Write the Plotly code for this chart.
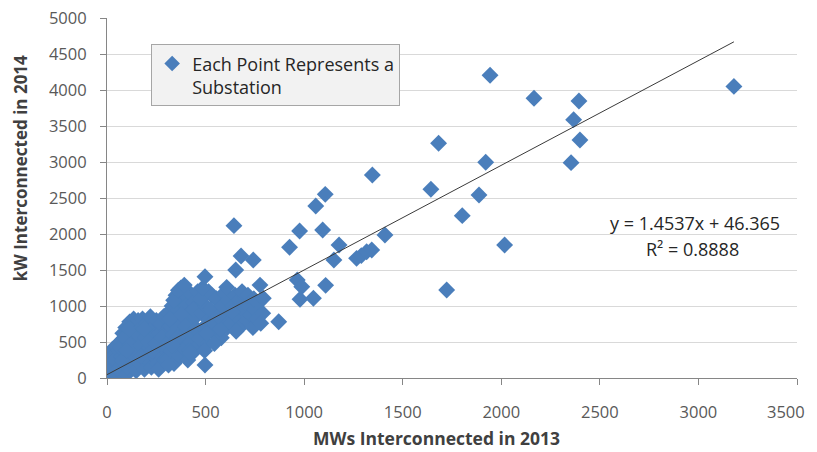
import plotly.graph_objects as go

# Outlying substations (MW 2013, kW 2014)
x_out = [3180, 2394, 2367, 2399, 2354, 2166, 1943, 1682, 1921, 1346, 1643, 1887, 1107, 1059,
         1802, 977, 1094, 926, 1177, 1151, 1410, 1266, 1290, 1317, 1343, 2017, 1723, 965,
         988, 1109, 979, 1047, 871, 644, 680, 742, 653, 497, 607, 776, 793, 497, 421]
y_out = [4050, 3847, 3588, 3306, 2991, 3885, 4205, 3260, 2996, 2819, 2621, 2542, 2551, 2389,
         2255, 2042, 2056, 1815, 1847, 1639, 1986, 1662, 1700, 1754, 1778, 1847, 1222, 1361,
         1268, 1287, 1093, 1107, 782, 2116, 1694, 1639, 1500, 1407, 1259, 1290, 1107, 181, 347]

# Dense cluster of small substations
x_cluster = [0, 5, 10, 3, 15, 20, 25, 8, 30, 35, 40, 12, 45, 50, 55, 60, 18, 28, 42, 48, 5, 22, 38, 52, 58,
             65, 70, 75, 80, 85, 90, 95, 100, 105, 110, 115, 120, 125, 130, 135, 140, 145, 150, 155, 160,
             68, 88, 102, 118, 132, 148, 158, 78, 98, 112,
             165, 170, 175, 180, 185, 190, 195, 200, 205, 210, 215, 220, 225, 230, 235, 240, 245, 250,
             255, 260, 265, 270, 275, 280, 285, 290, 295, 300, 172, 188, 208, 228, 248, 262, 278, 292,
             305, 310, 315, 320, 325, 330, 335, 340, 345, 350, 355, 360, 365, 370, 375, 380, 385, 390,
             395, 400, 405, 410, 415, 420, 425, 430, 435, 440, 445, 450, 455, 460, 318, 338, 358, 378,
             398, 418, 438, 452, 362, 392, 312, 332,
             470, 480, 490, 500, 510, 520, 530, 540, 550, 560, 570, 580, 590, 600, 610, 620, 475, 495,
             515, 535, 555, 575, 595, 485, 505, 525, 545, 565, 585, 615,
             630, 640, 650, 660, 670, 680, 690, 700, 710, 720, 730, 740, 750, 760, 770, 790, 655, 685,
             715, 745, 780, 635]
y_cluster = [0, 20, 50, 80, 10, 120, 60, 150, 200, 30, 90, 250, 160, 300, 20, 230, 330, 400, 360, 440, 190, 280, 260, 120, 380,
             500, 80, 300, 620, 180, 420, 700, 50, 260, 560, 780, 350, 140, 650, 820, 480, 250, 720, 380, 590,
             420, 560, 150, 460, 300, 100, 800, 240, 380, 680,
             200, 450, 700, 820, 330, 120, 560, 760, 260, 640, 420, 850, 150, 520, 700, 300, 600, 800,
             200, 450, 620, 350, 750, 180, 520, 860, 400, 650, 300, 680, 500, 380, 480, 120, 560, 250,
             250, 900, 500, 720, 380, 1000, 600, 200, 820, 1150, 450, 700, 950, 300, 1250, 560, 1100, 800,
             400, 1000, 650, 250, 900, 1180, 500, 750, 350, 1050, 600, 850, 430, 1200, 820, 1080, 560, 880,
             720, 380, 950, 680, 1220, 1290, 180, 450,
             550, 900, 700, 1000, 480, 820, 1150, 620, 900, 750, 1050, 560, 850, 1000, 700, 900, 1100, 380,
             1200, 780, 1100, 680, 1180, 1250, 620, 950, 480, 860, 1000, 1080,
             760, 1000, 1150, 850, 1080, 720, 950, 1120, 800, 1000, 880, 700, 950, 820, 1050, 900, 650, 1200,
             1150, 1100, 760, 920]

x_all = x_cluster + x_out
y_all = y_cluster + y_out

slope = 1.4537
intercept = 46.365
r2 = 0.8888

x_tick_vals = [0, 500, 1000, 1500, 2000, 2500, 3000, 3500]
y_tick_vals = [0, 500, 1000, 1500, 2000, 2500, 3000, 3500, 4000, 4500, 5000]
# last x label is drawn as an annotation so it stays inside the page
x_tick_text = [str(v) for v in x_tick_vals[:-1]] + [""]

x_title = "MWs Interconnected in 2013"
y_title = "kW Interconnected in 2014"

FONT = "Open Sans"
BLUE = "#4A7EBB"

fig = go.Figure()
fig.add_trace(go.Scatter(
    x=x_all, y=y_all, mode="markers",
    name="Each Point Represents a<br>Substation",
    marker=dict(symbol="diamond", size=13, color=BLUE, line=dict(width=0)),
    hoverinfo="x+y",
))
xmin, xmax = min(x_all), max(x_all)
fig.add_trace(go.Scatter(
    x=[xmin, xmax], y=[slope * xmin + intercept, slope * xmax + intercept],
    mode="lines", line=dict(color="#3a3a3a", width=1), showlegend=False, hoverinfo="skip",
))

fig.add_annotation(
    x=3424, y=2150, xref="x", yref="y", xanchor="right", yanchor="middle",
    text=f"y = {slope}x + {intercept}", showarrow=False,
    font=dict(family=FONT, size=18, color="#262626"),
)
fig.add_annotation(
    x=2972, y=1790, xref="x", yref="y", xanchor="center", yanchor="middle",
    text=f"R² = {r2}", showarrow=False,
    font=dict(family=FONT, size=18, color="#262626"),
)
fig.add_annotation(
    x=x_tick_vals[-1], y=-0.0917, xref="x", yref="paper", xanchor="right", yanchor="middle",
    xshift=10, text=str(x_tick_vals[-1]), showarrow=False,
    font=dict(family=FONT, size=16.5, color="#595959"),
)
# Axis titles (placed like the original, slightly off-centre)
fig.add_annotation(
    x=0.478, y=-0.168, xref="paper", yref="paper", xanchor="center", yanchor="middle",
    text=f"<b>{x_title}</b>", showarrow=False,
    font=dict(family=FONT, size=17.5, color="#404040"),
)
fig.add_annotation(
    x=-0.126, y=0.583, xref="paper", yref="paper", xanchor="center", yanchor="middle",
    text=f"<b>{y_title}</b>", showarrow=False, textangle=-90,
    font=dict(family=FONT, size=17, color="#404040"),
)

fig.update_layout(
    width=809, height=444,
    margin=dict(l=99, r=20, t=10, b=74),
    paper_bgcolor="white", plot_bgcolor="white",
    font=dict(family=FONT, size=18, color="#404040"),
    legend=dict(
        x=0.064, y=0.927, xanchor="left", yanchor="top",
        bgcolor="#F2F2F2", bordercolor="#A6A6A6", borderwidth=1,
        font=dict(family=FONT, size=18, color="#262626"),
        valign="top", itemsizing="constant", itemwidth=30,
    ),
    xaxis=dict(
        range=[0, 3500], tickvals=x_tick_vals, ticktext=x_tick_text,
        showgrid=False, zeroline=False,
        showline=True, linecolor="#868686", linewidth=1, automargin=False,
        ticks="outside", ticklen=6, tickcolor="#868686", ticklabelstandoff=13,
        ticklabeloverflow="allow",
        tickfont=dict(family=FONT, size=16.5, color="#595959"),
    ),
    yaxis=dict(
        range=[0, 5000], tickvals=y_tick_vals, showgrid=True, gridcolor="#D9D9D9", gridwidth=1,
        zeroline=False, showline=True, linecolor="#868686", linewidth=1, automargin=False,
        ticks="outside", ticklen=6, tickcolor="#868686", ticklabelstandoff=10,
        ticklabeloverflow="allow",
        tickfont=dict(family=FONT, size=16.5, color="#595959"),
    ),
)

fig.write_html("out.html")
